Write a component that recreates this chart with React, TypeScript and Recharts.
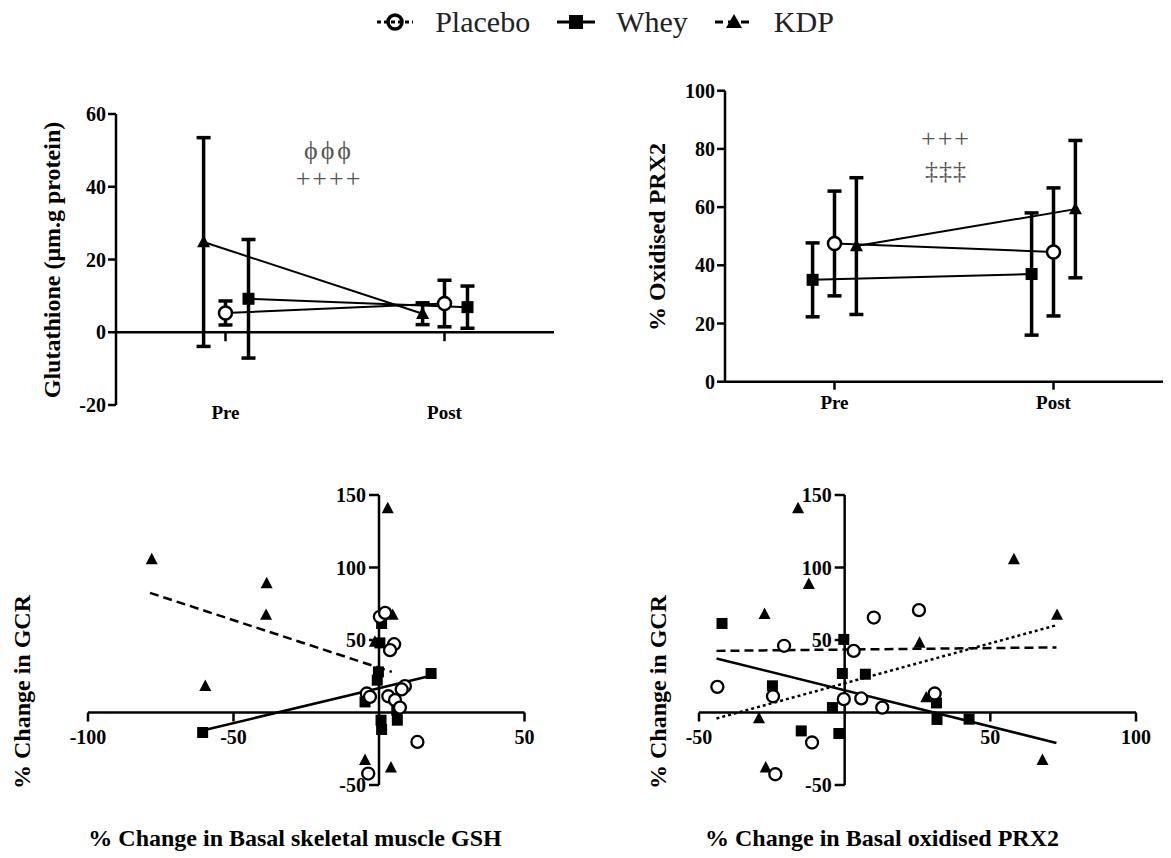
import React from 'react';
import {
  LineChart,
  Line,
  ErrorBar,
  XAxis,
  YAxis,
  ScatterChart,
  Scatter,
  ReferenceLine,
  ReferenceDot,
} from 'recharts';

// ---- data ----
const timepoints = ['Pre', 'Post'];

// Glutathione (µm.g protein), mean and error per timepoint
const gshPlacebo = [5.3, 7.9];
const gshPlaceboErr = [3.3, 6.4];
const gshWhey = [9.2, 6.9];
const gshWheyErr = [16.3, 5.8];
const gshKdp = [24.8, 5.1];
const gshKdpErr = [28.7, 3.0];

// % oxidised PRX2
const prxPlacebo = [47.5, 44.6];
const prxPlaceboErr = [18.0, 22.0];
const prxWhey = [35.0, 37.0];
const prxWheyErr = [12.7, 21.0];
const prxKdp = [46.6, 59.3];
const prxKdpErr = [23.5, 23.6];

// % change in basal GSH (x) vs % change in GCR (y)
const gshGcrPlacebo = [
  [0.3, 66], [2.1, 68.7], [5.2, 47.1], [3.8, 43], [8.9, 18.2], [7.8, 15.9], [-4.2, 13.1],
  [-3.1, 10.8], [3.2, 11.2], [5.5, 8.5], [7.2, 3.4], [13.2, -20.3], [-3.7, -42.1],
];
const gshGcrWhey = [
  [0.9, 61.4], [0.3, 48], [-0.2, 28], [-0.6, 22.3], [17.9, 26.9], [-4.8, 7.3], [6.1, 1.6],
  [6.3, -5.3], [0.7, -5.3], [0.9, -11.7], [-60.6, -13.8],
];
const gshGcrKdp = [
  [3, 140.8], [4.7, 67.2], [-1.4, 48.7], [-4.8, -32.9], [4.1, -38], [-78.1, 105.6],
  [-38.6, 89], [-38.8, 67.2], [-59.7, 18.2],
];
const gshGcrKdpFit = [[-78.7, 82.5], [4.4, 28]];
const gshGcrWheyFit = [[-59.2, -11.7], [16.4, 24.6]];

// % change in basal oxidised PRX2 (x) vs % change in GCR (y)
const prxGcrPlacebo = [
  [10, 65.5], [-20.8, 46], [3.1, 42.5], [-43.7, 17.7], [-24.6, 11.2], [-0.3, 9.2], [5.7, 9.7],
  [12.9, 3.4], [-11.2, -20.7], [-23.8, -42.6], [25.5, 70.6], [30.9, 13.1],
];
const prxGcrWhey = [
  [-42.1, 61.4], [-0.3, 50.4], [-0.8, 26.9], [7.1, 26.4], [-24.8, 18.4], [-4.2, 3.4],
  [-14.9, -12.7], [-2, -14.5], [31.5, 6.6], [31.7, -4.8], [42.7, -4.6],
];
const prxGcrKdp = [
  [-16, 140.8], [-12.3, 88.5], [-27.5, 67.8], [-29.4, -4.1], [-27.1, -38], [58.1, 105.6],
  [72.9, 67.2], [25.7, 48], [28, 10.3], [67.9, -32.9],
];
const prxGcrKdpFit = [[-44, 42.5], [72.7, 44.9]];
const prxGcrPlaceboFit = [[-44, -4.1], [72.7, 60.2]];
const prxGcrWheyFit = [[-44, 37.3], [72.7, -21]];

const gshTicks = [-20, 0, 20, 40, 60];
const prxTicks = [0, 20, 40, 60, 80, 100];
const gcrTicks = [150, 100, 50, -50];
const gshChangeTicks = [-100, -50, 50];
const prxChangeTicks = [-50, 50, 100];

// ---- styling ----
const FONT = '"Liberation Serif", "Times New Roman", Times, serif';
const tickStyle = { fill: '#000', fontSize: 20, fontWeight: 700, fontFamily: FONT };
const axisStroke = { stroke: '#000', strokeWidth: 2.5 };

const toSeries = (means: number[], errs: number[], shift: number) =>
  means.map((m, i) => ({ x: i + 1 + shift, y: m, err: errs[i] }));
const toPoints = (pts: number[][]) => pts.map(([x, y]) => ({ x, y }));

const circle = (r: number, sw: number) => (p: any) =>
  <circle key={p.index} cx={p.cx} cy={p.cy} r={r} fill="#fff" stroke="#000" strokeWidth={sw} />;
const square = (s: number) => (p: any) =>
  <rect key={p.index} x={p.cx - s / 2} y={p.cy - s / 2} width={s} height={s} fill="#000" />;
const triangle = (w: number) => (p: any) => (
  <polygon
    key={p.index}
    points={`${p.cx},${p.cy - w * 0.55} ${p.cx - w / 2},${p.cy + w * 0.4} ${p.cx + w / 2},${p.cy + w * 0.4}`}
    fill="#000"
  />
);
const noShape = () => <g />;

const xTickMark = (label: string) => (p: any) => (
  <g>
    <line x1={p.cx} y1={p.cy} x2={p.cx} y2={p.cy + 9} stroke="#000" strokeWidth={2.5} />
    {label ? (
      <text x={p.cx} y={p.cy + 31} textAnchor="middle" style={tickStyle}>{label}</text>
    ) : null}
  </g>
);
const yTickMark = (label: string) => (p: any) => (
  <g>
    <line x1={p.cx - 10} y1={p.cy} x2={p.cx} y2={p.cy} stroke="#000" strokeWidth={2.5} />
    <text x={p.cx - 13} y={p.cy + 7} textAnchor="end" style={tickStyle}>{label}</text>
  </g>
);

const Title = ({ x, y, text, vertical }: { x: number; y: number; text: string; vertical?: boolean }) => (
  <div
    style={{
      position: 'absolute',
      left: x,
      top: y,
      transform: `translate(-50%, -50%)${vertical ? ' rotate(-90deg)' : ''}`,
      whiteSpace: 'nowrap',
      fontFamily: FONT,
      fontWeight: 700,
      fontSize: 24,
      color: '#000',
      lineHeight: 1,
    }}
  >
    {text}
  </div>
);

const Note = ({ x, y, text, spacing }: { x: number; y: number; text: string; spacing: number }) => (
  <div
    style={{
      position: 'absolute',
      left: x,
      top: y,
      transform: 'translate(-50%, -50%)',
      fontFamily: FONT,
      fontSize: 26,
      color: '#555',
      lineHeight: 0.85,
      letterSpacing: spacing,
      whiteSpace: 'nowrap',
    }}
  >
    {text}
  </div>
);

const LegendIcon = ({ kind }: { kind: 'placebo' | 'whey' | 'kdp' }) => (
  <svg width={40} height={24}>
    {kind === 'placebo' && (
      <>
        <line x1={2} y1={12} x2={38} y2={12} stroke="#000" strokeWidth={3} strokeDasharray="4 3" />
        <circle cx={20} cy={12} r={7} fill="none" stroke="#000" strokeWidth={3.5} />
      </>
    )}
    {kind === 'whey' && (
      <>
        <line x1={1} y1={12} x2={39} y2={12} stroke="#000" strokeWidth={3} />
        <rect x={13} y={5} width={14} height={14} fill="#000" />
      </>
    )}
    {kind === 'kdp' && (
      <>
        <line x1={1} y1={12} x2={37} y2={12} stroke="#000" strokeWidth={3} strokeDasharray="8 5" />
        <polygon points="20,4 12,18 28,18" fill="#000" />
      </>
    )}
  </svg>
);

const legendItems: { kind: 'placebo' | 'whey' | 'kdp'; label: string }[] = [
  { kind: 'placebo', label: 'Placebo' },
  { kind: 'whey', label: 'Whey' },
  { kind: 'kdp', label: 'KDP' },
];

const GshTimeChart = () => (
  <LineChart width={580} height={360} margin={{ top: 34, right: 26, bottom: 5, left: 46 }}>
    <XAxis
      type="number"
      dataKey="x"
      domain={[0.5, 2.5]}
      ticks={[1, 2]}
      tickFormatter={(v: number) => timepoints[Math.round(v) - 1]}
      axisLine={false}
      tickLine={false}
      tickSize={0}
      tickMargin={1}
      height={30}
      tick={{ ...tickStyle, fontSize: 19 }}
    />
    <YAxis
      type="number"
      domain={[-20, 60]}
      ticks={gshTicks}
      interval={0}
      width={70}
      axisLine={axisStroke}
      tickLine={axisStroke}
      tickSize={8}
      tick={tickStyle}
    />
    <ReferenceLine y={0} stroke="#000" strokeWidth={2.5} />
    {[1, 2].map((t) => (
      <ReferenceDot key={t} x={t} y={0} shape={xTickMark('')} />
    ))}
    <Line data={toSeries(gshKdp, gshKdpErr, -0.1)} dataKey="y" stroke="#000" strokeWidth={2}
      dot={triangle(13)} activeDot={false} isAnimationActive={false}>
      <ErrorBar dataKey="err" width={7} strokeWidth={3.5} stroke="#000" />
    </Line>
    <Line data={toSeries(gshPlacebo, gshPlaceboErr, 0)} dataKey="y" stroke="#000" strokeWidth={2}
      dot={circle(6.5, 2.5)} activeDot={false} isAnimationActive={false}>
      <ErrorBar dataKey="err" width={7} strokeWidth={3.5} stroke="#000" />
    </Line>
    <Line data={toSeries(gshWhey, gshWheyErr, 0.105)} dataKey="y" stroke="#000" strokeWidth={2}
      dot={square(12)} activeDot={false} isAnimationActive={false}>
      <ErrorBar dataKey="err" width={7} strokeWidth={3.5} stroke="#000" />
    </Line>
  </LineChart>
);

const PrxTimeChart = () => (
  <LineChart width={571} height={370} margin={{ top: 30.7, right: 8, bottom: 8.3, left: 55 }}>
    <XAxis
      type="number"
      dataKey="x"
      domain={[0.5, 2.5]}
      ticks={[1, 2]}
      tickFormatter={(v: number) => timepoints[Math.round(v) - 1]}
      axisLine={axisStroke}
      tickLine={axisStroke}
      tickSize={8}
      tickMargin={6}
      height={40}
      tick={{ ...tickStyle, fontSize: 19 }}
    />
    <YAxis
      type="number"
      domain={[0, 100]}
      ticks={prxTicks}
      interval={0}
      width={70}
      axisLine={axisStroke}
      tickLine={axisStroke}
      tickSize={8}
      tick={tickStyle}
    />
    <Line data={toSeries(prxWhey, prxWheyErr, -0.1)} dataKey="y" stroke="#000" strokeWidth={2}
      dot={square(12)} activeDot={false} isAnimationActive={false}>
      <ErrorBar dataKey="err" width={7} strokeWidth={3.5} stroke="#000" />
    </Line>
    <Line data={toSeries(prxPlacebo, prxPlaceboErr, 0)} dataKey="y" stroke="#000" strokeWidth={2}
      dot={circle(6.5, 2.5)} activeDot={false} isAnimationActive={false}>
      <ErrorBar dataKey="err" width={7} strokeWidth={3.5} stroke="#000" />
    </Line>
    <Line data={toSeries(prxKdp, prxKdpErr, 0.1)} dataKey="y" stroke="#000" strokeWidth={2}
      dot={triangle(13)} activeDot={false} isAnimationActive={false}>
      <ErrorBar dataKey="err" width={7} strokeWidth={3.5} stroke="#000" />
    </Line>
  </LineChart>
);

const CorrelationChart = ({
  width,
  margin,
  xDomain,
  xTicks,
  placebo,
  whey,
  kdp,
  fits,
}: {
  width: number;
  margin: { top: number; right: number; bottom: number; left: number };
  xDomain: [number, number];
  xTicks: number[];
  placebo: number[][];
  whey: number[][];
  kdp: number[][];
  fits: { pts: number[][]; dash?: string }[];
}) => (
  <ScatterChart width={width} height={340} margin={margin}>
    <XAxis type="number" dataKey="x" domain={xDomain} hide allowDataOverflow />
    <YAxis type="number" dataKey="y" domain={[-50, 150]} hide allowDataOverflow />
    <ReferenceLine y={0} stroke="#000" strokeWidth={2.5} />
    <ReferenceLine x={0} stroke="#000" strokeWidth={2.5} />
    {xTicks.map((t) => (
      <ReferenceDot key={`x${t}`} x={t} y={0} shape={xTickMark(String(t))} />
    ))}
    {gcrTicks.map((t) => (
      <ReferenceDot key={`y${t}`} x={0} y={t} shape={yTickMark(String(t))} />
    ))}
    {fits.map((f, i) => (
      <Scatter
        key={`fit${i}`}
        data={toPoints(f.pts)}
        line={{ stroke: '#000', strokeWidth: 2.5, strokeDasharray: f.dash }}
        shape={noShape}
        isAnimationActive={false}
      />
    ))}
    <Scatter data={toPoints(whey)} shape={square(11)} isAnimationActive={false} />
    <Scatter data={toPoints(kdp)} shape={triangle(12)} isAnimationActive={false} />
    <Scatter data={toPoints(placebo)} shape={circle(6, 2.3)} isAnimationActive={false} />
  </ScatterChart>
);

export default function App() {
  return (
    <div style={{ position: 'absolute', left: 0, top: 0, width: 1171, height: 858, background: '#fff' }}>
      {/* legend */}
      <div
        style={{
          position: 'absolute',
          left: 38,
          top: 5,
          width: 1133,
          display: 'flex',
          justifyContent: 'center',
          alignItems: 'center',
          gap: 26,
          fontFamily: FONT,
          fontSize: 30,
          color: '#222',
        }}
      >
        {legendItems.map((it) => (
          <div key={it.kind} style={{ display: 'flex', alignItems: 'center', gap: 20 }}>
            <LegendIcon kind={it.kind} />
            <span>{it.label}</span>
          </div>
        ))}
      </div>

      <div style={{ position: 'absolute', left: 0, top: 80 }}>
        <GshTimeChart />
      </div>
      <div style={{ position: 'absolute', left: 600, top: 60 }}>
        <PrxTimeChart />
      </div>
      <div style={{ position: 'absolute', left: 0, top: 470 }}>
        <CorrelationChart
          width={580}
          margin={{ top: 25, right: 55.5, bottom: 25, left: 88 }}
          xDomain={[-100, 50]}
          xTicks={gshChangeTicks}
          placebo={gshGcrPlacebo}
          whey={gshGcrWhey}
          kdp={gshGcrKdp}
          fits={[
            { pts: gshGcrKdpFit, dash: '9 5' },
            { pts: gshGcrWheyFit },
          ]}
        />
      </div>
      <div style={{ position: 'absolute', left: 590, top: 470 }}>
        <CorrelationChart
          width={581}
          margin={{ top: 25, right: 35, bottom: 25, left: 109 }}
          xDomain={[-50, 100]}
          xTicks={prxChangeTicks}
          placebo={prxGcrPlacebo}
          whey={prxGcrWhey}
          kdp={prxGcrKdp}
          fits={[
            { pts: prxGcrKdpFit, dash: '9 5' },
            { pts: prxGcrPlaceboFit, dash: '3 3' },
            { pts: prxGcrWheyFit },
          ]}
        />
      </div>

      <Title x={52} y={260} text="Glutathione (μm.g protein)" vertical />
      <Title x={657} y={237} text="% Oxidised PRX2" vertical />
      <Title x={22} y={692} text="% Change in GCR" vertical />
      <Title x={658} y={692} text="% Change in GCR" vertical />
      <Title x={295} y={838} text="% Change in Basal skeletal muscle GSH" />
      <Title x={882} y={838} text="% Change in Basal oxidised PRX2" />

      <Note x={329} y={151} text="ϕϕϕ" spacing={3} />
      <Note x={329} y={179} text="++++" spacing={2} />
      <Note x={946} y={139} text="+++" spacing={2} />
      <Note x={946} y={171} text="‡‡‡" spacing={1} />
    </div>
  );
}
